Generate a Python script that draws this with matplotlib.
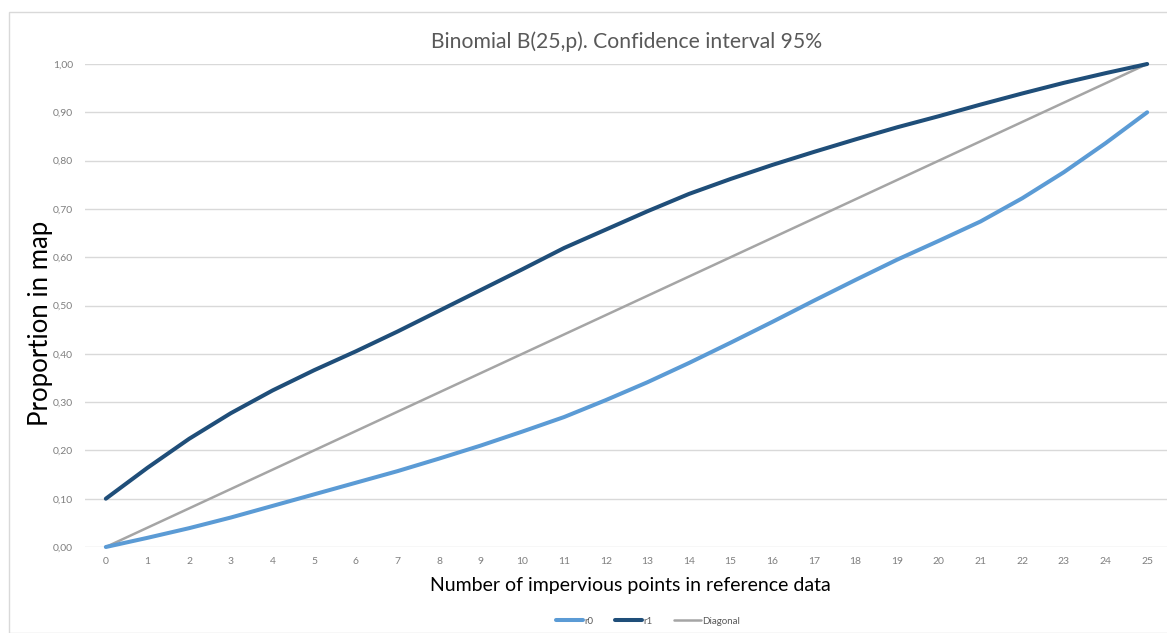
import matplotlib
matplotlib.use("Agg")
import matplotlib.pyplot as plt
from matplotlib.patches import Rectangle

# data
k = list(range(26))
r0 = [0.000, 0.019, 0.039, 0.061, 0.085, 0.109, 0.133, 0.157, 0.183, 0.210,
      0.239, 0.269, 0.304, 0.341, 0.381, 0.423, 0.466, 0.510, 0.553, 0.595,
      0.634, 0.674, 0.722, 0.776, 0.836, 0.900]
r1 = [0.100, 0.164, 0.224, 0.277, 0.324, 0.366, 0.405, 0.446, 0.489, 0.532,
      0.575, 0.619, 0.657, 0.695, 0.731, 0.762, 0.791, 0.818, 0.844, 0.869,
      0.892, 0.916, 0.939, 0.961, 0.981, 1.000]
diagonal = [i / 25 for i in k]
y_ticks = [0.0, 0.1, 0.2, 0.3, 0.4, 0.5, 0.6, 0.7, 0.8, 0.9, 1.0]

plt.rcParams['font.family'] = ['Lato', 'DejaVu Sans']

W, H = 1167, 633
fig = plt.figure(figsize=(W / 100, H / 100), dpi=100)

# chart area border
fig.patches.append(Rectangle((9 / W, 0), 1, 1 - 12 / H, transform=fig.transFigure,
                             fill=False, edgecolor='#d9d9d9', linewidth=1))

ax = fig.add_axes([85 / W, 1 - 547 / H, 1083 / W, 483 / H])
ax.set_xlim(-0.5, 25.5)
ax.set_ylim(0, 1)

ax.plot(k, diagonal, color='#a5a5a5', lw=1.8, solid_capstyle='round', label='Diagonal', zorder=3, clip_on=False)
ax.plot(k, r0, color='#5b9bd5', lw=2.9, solid_capstyle='round', label='r0', zorder=4, clip_on=False)
ax.plot(k, r1, color='#1f4e79', lw=2.9, solid_capstyle='round', label='r1', zorder=5, clip_on=False)

for s in ax.spines.values():
    s.set_visible(False)
ax.set_yticks(y_ticks)
ax.set_yticklabels([f"{v:.2f}".replace('.', ',') for v in y_ticks])
ax.set_xticks(k)
ax.grid(axis='y', color='#d9d9d9', lw=1)
ax.set_axisbelow(True)
ax.tick_params(length=0, labelsize=7.5, colors='#7f7f7f')
ax.tick_params(axis='y', pad=8.5)
ax.tick_params(axis='x', pad=7)

fig.text(627 / W, 1 - 42 / H, 'Binomial B(25,p). Confidence interval 95%',
         ha='center', va='center', fontsize=15.2, color='#595959')
fig.text(630 / W, 1 - 586 / H, 'Number of impervious points in reference data',
         ha='center', va='center', fontsize=14, color='black')
fig.text(41 / W, 1 - 323 / H, 'Proportion in map', rotation=90,
         ha='center', va='center', fontsize=18.5, color='black')

h, l = ax.get_legend_handles_labels()
order = [1, 2, 0]
leg = fig.legend([h[i] for i in order], [l[i] for i in order], loc='center',
                 bbox_to_anchor=(648 / W, 1 - 621 / H), ncol=3, frameon=False,
                 fontsize=7, handlelength=2.8, handletextpad=0.1, columnspacing=2.2,
                 labelcolor='#595959')

fig.savefig('out.png', dpi=100)
